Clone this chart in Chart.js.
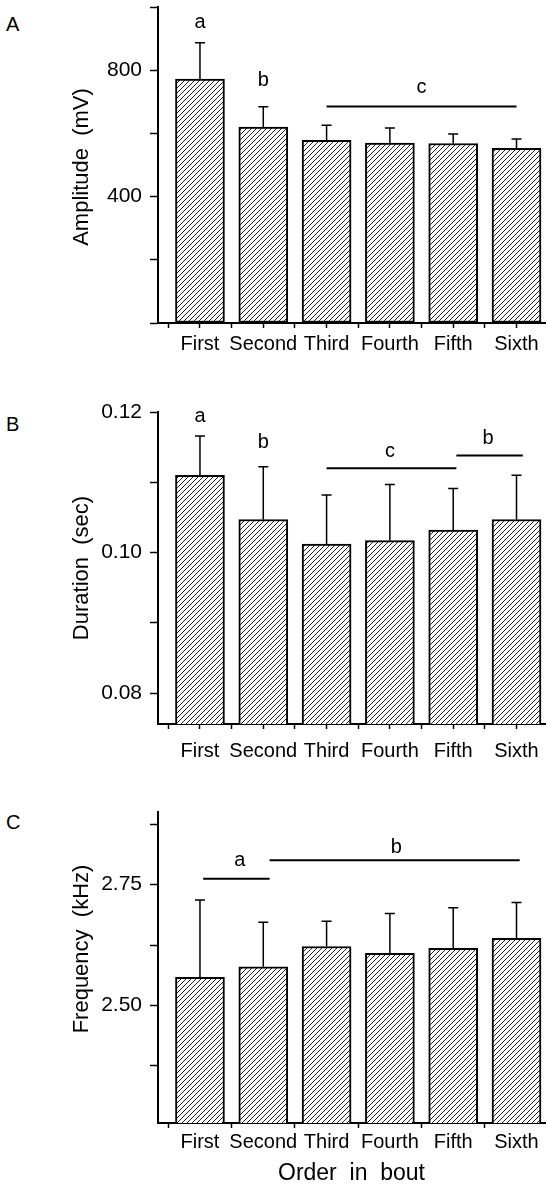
<!DOCTYPE html>
<html lang="en">
<head>
  <meta charset="UTF-8">
  <title>Call parameters by order in bout</title>
  <script src="https://cdn.jsdelivr.net/npm/chart.js"></script>
  <style>
    body { margin: 0; background: #fff; width: 547px; height: 1187px; position: relative; overflow: hidden;
           font-family: 'Liberation Sans', Arial, sans-serif; }
    .panel { position: absolute; left: 0; }
    .letter { position: absolute; left: 6px; font-size: 20px; line-height: 20px; color: #000; }
  </style>
</head>
<body>
  <div class="letter" style="top:14px">A</div>
  <div class="letter" style="top:414px">B</div>
  <div class="letter" style="top:812px">C</div>

  <div class="panel" style="top:0"><canvas id="chartA" width="547" height="370"></canvas></div>
  <div class="panel" style="top:370px"><canvas id="chartB" width="547" height="410"></canvas></div>
  <div class="panel" style="top:780px"><canvas id="chartC" width="547" height="407"></canvas></div>

  <script>
    // categories
    const orders = ['First', 'Second', 'Third', 'Fourth', 'Fifth', 'Sixth'];

    // A: amplitude (mV), mean and SE
    const amplitude   = [772, 620, 578, 569, 568, 553];
    const amplitudeSE = [115, 64, 48, 48, 30, 29];
    const ampTicks    = [0, 200, 400, 600, 800, 1000];
    const ampLabeled  = [400, 800];

    // B: duration (sec)
    const duration    = [0.1110, 0.1047, 0.1012, 0.1017, 0.1032, 0.1047];
    const durationSE  = [0.0056, 0.0075, 0.0070, 0.0080, 0.0059, 0.0063];
    const durTicks    = [0.08, 0.09, 0.10, 0.11, 0.12];
    const durLabeled  = [0.08, 0.10, 0.12];

    // C: frequency (kHz)
    const frequency   = [2.558, 2.580, 2.622, 2.608, 2.618, 2.639];
    const frequencySE = [0.160, 0.092, 0.052, 0.082, 0.084, 0.074];
    const freqTicks   = [2.375, 2.5, 2.625, 2.75, 2.875];
    const freqLabeled = [2.5, 2.75];

    // x tick marks: category centres and the gaps between them
    const xTickValues = [0.5, 1, 1.5, 2, 2.5, 3, 3.5, 4, 4.5, 5, 5.5, 6];

    // significance letters and bars (x in category units, y in data units)
    const ampLetters  = [['a', 1, 950], ['b', 2, 767], ['c', 4.5, 745]];
    const ampLines    = [[3, 6, 685]];
    const durLetters  = [['a', 1, 0.1194], ['b', 2, 0.1157], ['c', 4, 0.1144], ['b', 5.55, 0.1162]];
    const durLines    = [[3, 5.05, 0.1120], [5.05, 6.1, 0.1138]];
    const freqLetters = [['a', 1.63, 2.800], ['b', 4.1, 2.827]];
    const freqLines   = [[1.05, 2.1, 2.762], [2.1, 6.05, 2.800]];

    const FONT = "'Liberation Sans', Arial, sans-serif";
    Chart.defaults.font.family = FONT;
    Chart.defaults.color = '#000';

    function hatch() {
      const c = document.createElement('canvas');
      c.width = 5; c.height = 5;
      const g = c.getContext('2d');
      g.fillStyle = '#fff';
      g.fillRect(0, 0, 5, 5);
      g.strokeStyle = '#222';
      g.lineWidth = 1;
      g.beginPath();
      g.moveTo(0, 5); g.lineTo(5, 0);
      g.moveTo(-1, 1); g.lineTo(1, -1);
      g.moveTo(4, 6); g.lineTo(6, 4);
      g.stroke();
      return g.createPattern(c, 'repeat');
    }

    // error bars, letters, brackets and the y title
    const extras = {
      id: 'extras',
      afterDatasetsDraw(chart, args, o) {
        const { ctx } = chart;
        const x = chart.scales.x, y = chart.scales.y;
        ctx.save();
        ctx.strokeStyle = '#000';
        ctx.lineWidth = 1.5;
        o.means.forEach((m, i) => {
          const px = x.getPixelForValue(i + 1);
          const base = y.getPixelForValue(m);
          const top = y.getPixelForValue(m + o.se[i]);
          ctx.beginPath();
          ctx.moveTo(px, base); ctx.lineTo(px, top);
          ctx.moveTo(px - 5, top); ctx.lineTo(px + 5, top);
          ctx.stroke();
        });
        ctx.lineWidth = 2;
        o.lines.forEach(l => {
          const py = y.getPixelForValue(l[2]);
          ctx.beginPath();
          ctx.moveTo(x.getPixelForValue(l[0]), py);
          ctx.lineTo(x.getPixelForValue(l[1]), py);
          ctx.stroke();
        });
        ctx.fillStyle = '#000';
        ctx.textAlign = 'center';
        ctx.textBaseline = 'middle';
        ctx.font = '20px ' + FONT;
        o.letters.forEach(t => ctx.fillText(t[0], x.getPixelForValue(t[1]), y.getPixelForValue(t[2])));
        // rotated axis title
        ctx.font = '22px ' + FONT;
        ctx.translate(o.title.x, o.title.y);
        ctx.rotate(-Math.PI / 2);
        ctx.fillText(o.title.text, 0, 0);
        ctx.restore();
      }
    };

    function isIn(list, v) {
      return list.some(t => Math.abs(t - v) < 1e-9);
    }

    function makePanel(id, p) {
      return new Chart(document.getElementById(id), {
        type: 'bar',
        data: {
          datasets: [{
            data: p.means.map((v, i) => ({ x: i + 1, y: v })),
            backgroundColor: hatch(),
            borderColor: '#000',
            borderWidth: 2,
            borderSkipped: false,
            barThickness: 49
          }]
        },
        options: {
          responsive: false,
          animation: false,
          layout: { padding: { top: p.top, right: 2, left: 0, bottom: 0 } },
          plugins: {
            legend: { display: false },
            tooltip: { enabled: false },
            extras: { means: p.means, se: p.se, letters: p.letters, lines: p.lines, title: p.title }
          },
          scales: {
            x: {
              type: 'linear',
              offset: false,
              min: 0.337,
              max: 6.45,
              afterBuildTicks: s => { s.ticks = xTickValues.map(v => ({ value: v })); },
              afterFit: s => { s.height = p.xh; s.paddingLeft = 0; s.paddingRight = 0; },
              grid: {
                offset: false,
                drawOnChartArea: false,
                tickLength: 5,
                tickWidth: 1.5,
                tickColor: c => (p.centerTicks || !c.tick || !Number.isInteger(c.tick.value)) ? '#000' : 'rgba(0,0,0,0)'
              },
              border: { color: '#000', width: 2 },
              ticks: {
                autoSkip: false,
                maxRotation: 0,
                padding: p.xpad,
                font: { size: 20 },
                callback: v => Number.isInteger(v) ? orders[v - 1] : ''
              },
              title: p.xTitle ? { display: true, text: p.xTitle, font: { size: 23 }, padding: { top: 0, bottom: 0 } } : { display: false }
            },
            y: {
              min: p.min,
              max: p.max,
              afterBuildTicks: s => { s.ticks = p.ticks.map(v => ({ value: v })); },
              afterFit: s => { s.width = 158; s.paddingTop = 0; s.paddingBottom = 0; },
              grid: { drawOnChartArea: false, tickLength: 8, tickWidth: 1.5, tickColor: '#000' },
              border: { color: '#000', width: 2 },
              ticks: {
                padding: 8,
                font: { size: 21 },
                callback: v => isIn(p.labeled, v) ? p.fmt(v) : ''
              }
            }
          }
        },
        plugins: [extras]
      });
    }

    makePanel('chartA', {
      means: amplitude, se: amplitudeSE, min: 0, max: 1000,
      ticks: ampTicks, labeled: ampLabeled, fmt: v => String(v),
      letters: ampLetters, lines: ampLines,
      top: 7, xh: 47, xpad: 4, centerTicks: true,
      title: { text: 'Amplitude  (mV)', x: 82, y: 167 }
    });

    makePanel('chartB', {
      means: duration, se: durationSE, min: 0.0756, max: 0.12,
      ticks: durTicks, labeled: durLabeled, fmt: v => v.toFixed(2),
      letters: durLetters, lines: durLines,
      top: 42, xh: 56, xpad: 10, centerTicks: true,
      title: { text: 'Duration  (sec)', x: 82, y: 198 }
    });

    makePanel('chartC', {
      means: frequency, se: frequencySE, min: 2.257, max: 2.90,
      ticks: freqTicks, labeled: freqLabeled, fmt: v => v.toFixed(2),
      letters: freqLetters, lines: freqLines,
      top: 32, xh: 64, xpad: 2, centerTicks: false,
      title: { text: 'Frequency  (kHz)', x: 82, y: 169 },
      xTitle: 'Order  in  bout'
    });
  </script>
</body>
</html>
